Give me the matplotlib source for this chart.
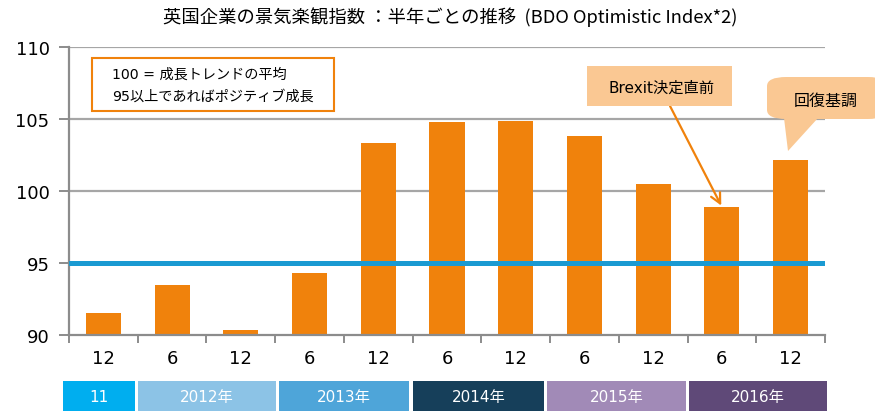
import matplotlib
matplotlib.use("Agg")
import matplotlib.pyplot as plt
from matplotlib.patches import FancyBboxPatch, Rectangle, Polygon
import numpy as np

plt.rcParams['font.family'] = ['DejaVu Sans', 'Noto Sans CJK JP']

months = ["12", "6", "12", "6", "12", "6", "12", "6", "12", "6", "12"]
values = [91.5, 93.5, 90.35, 94.3, 103.35, 104.8, 104.85, 103.85, 100.5, 98.9, 102.15]
years = ["11", "2012年", "2013年", "2014年", "2015年", "2016年"]
year_colors = ["#00AEEF", "#8CC3E6", "#4EA5D9", "#163F5A", "#A18AB7", "#5F4978"]
baseline = 95
title = "英国企業の景気楽観指数 ：半年ごとの推移  (BDO Optimistic Index*2)"

# layout: year band cell edges (pixels)
cell_px = [(63, 135), (138, 276), (279, 409), (413, 544), (547, 686), (689, 827)]

fig = plt.figure(figsize=(8.75, 4.14), dpi=100)
ax = fig.add_axes([69/875, 78/414, 756/875, 288/414])

x = np.arange(len(values))
ax.set_xlim(-0.5, len(values) - 0.5)
ax.set_ylim(90, 110)

for yv in [100, 105, 110]:
    ax.axhline(yv, color="#A6A6A6", lw=1.6, zorder=1)
ax.bar(x, [v - 90 for v in values], bottom=90, width=0.51, color="#F0820C", zorder=2)
ax.axhline(baseline, color="#1A9AD2", lw=3.6, zorder=3)

for s in ["top", "right"]:
    ax.spines[s].set_visible(False)
for s in ["left", "bottom"]:
    ax.spines[s].set_color("#8C8C8C")
    ax.spines[s].set_linewidth(1.6)

ax.set_yticks([90, 95, 100, 105, 110])
ax.tick_params(axis="y", length=7, width=1.4, color="#8C8C8C", labelsize=13, pad=7)
ax.set_xticks(x)
ax.set_xticklabels(months)
ax.tick_params(axis="x", which="major", length=0, labelsize=13, pad=10)
ax.set_xticks(np.arange(-0.5, len(values)), minor=True)
ax.tick_params(axis="x", which="minor", length=6, width=1.4, color="#8C8C8C")

# year band
for (p0, p1), lab, c in zip(cell_px, years, year_colors):
    fig.patches.append(Rectangle((p0/875, 2/414), (p1 - p0)/875, 30/414,
                                 transform=fig.transFigure, facecolor=c,
                                 edgecolor="none"))
    fig.text((p0 + p1) / 2 / 875, 16/414, lab, ha="center", va="center",
             color="white", fontsize=11, family=['DejaVu Sans', 'Noto Sans CJK JP'])

fig.text(0.514, 0.958, title, ha="center", va="center", fontsize=13.2,
         family=['Noto Sans CJK JP', 'DejaVu Sans'])

# note box
fig.patches.append(Rectangle((92/875, (414-112)/414), 242/875, 53/414,
                             transform=fig.transFigure, facecolor="white",
                             edgecolor="#F0820C", lw=1.5))
fig.text(112/875, (414-75)/414, "100 = 成長トレンドの平均", fontsize=10.2, va="center",
         family=['DejaVu Sans', 'Noto Sans CJK JP'])
fig.text(112/875, (414-97)/414, "95以上であればポジティブ成長", fontsize=10.2, va="center",
         family=['DejaVu Sans', 'Noto Sans CJK JP'])

# Brexit callout
fig.patches.append(Rectangle((587/875, (414-107)/414), 145/875, 40/414,
                             transform=fig.transFigure, facecolor="#FAC893",
                             edgecolor="none"))
fig.text(662/875, (414-88)/414, "Brexit決定直前", fontsize=11, ha="center", va="center",
         family=['DejaVu Sans', 'Noto Sans CJK JP'])
ax.annotate("", xy=(9, values[9]), xycoords="data",
            xytext=(670/875, (414-107)/414), textcoords="figure fraction",
            arrowprops=dict(arrowstyle="->", color="#F0820C", lw=1.6,
                            mutation_scale=18, shrinkA=0, shrinkB=1))

# 回復基調 speech bubble
fig.patches.append(FancyBboxPatch((767/875, (414-120)/414), 120/875, 42/414,
                                  boxstyle="round,pad=0,rounding_size=0.022",
                                  transform=fig.transFigure, facecolor="#FAC893",
                                  edgecolor="none"))
fig.patches.append(Polygon([(784/875, (414-119)/414), (818/875, (414-119)/414),
                            (788/875, (414-152)/414)], closed=True,
                           transform=fig.transFigure, facecolor="#FAC893",
                           edgecolor="none"))
fig.text(826/875, (414-101)/414, "回復基調", fontsize=11.5, ha="center", va="center",
         family=['Noto Sans CJK JP', 'DejaVu Sans'])

fig.savefig("out.png", dpi=100)
